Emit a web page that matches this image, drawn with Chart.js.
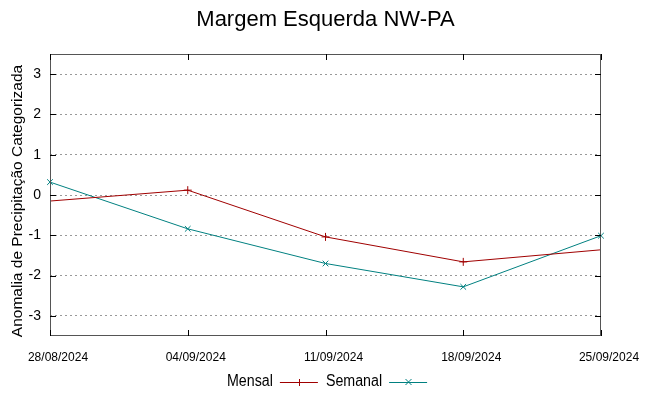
<!DOCTYPE html>
<html>
<head>
<meta charset="utf-8">
<script src="https://cdn.jsdelivr.net/npm/chart.js@4/dist/chart.umd.min.js"></script>
<style>
  html, body { margin: 0; padding: 0; background: #fff; }
  #wrap { width: 649px; height: 396px; position: relative; }
</style>
</head>
<body>
<div id="wrap"><canvas id="chart"></canvas></div>
<script>
// values
const dates = ['28/08/2024', '04/09/2024', '11/09/2024', '18/09/2024', '25/09/2024'];
const mensal = [-0.15, 0.12, -1.04, -1.66, -1.36];
const semanal = [0.32, -0.84, -1.70, -2.28, -1.01];
const mensalMarks = [0, 4, 4, 4, 0]; // end points of Mensal fall outside the axis range
const yTicks = [-3, -2, -1, 0, 1, 2, 3];
const yTitle = 'Anomalia de Precipitação Categorizada';

const RED = '#a00000';
const TEAL = '#008080';
const SANS = '"Liberation Sans", Arial, sans-serif';
const NARROW_X = 0.89; // gnuplot's labels look a bit condensed

// gnuplot-ish frame: title, y label, inward ticks on all sides, x labels, legend below
const frame = {
  id: 'frame',
  afterDraw(chart) {
    const { ctx, chartArea: a, scales } = chart;
    ctx.save();
    ctx.strokeStyle = '#555';
    ctx.lineWidth = 1;
    ctx.strokeRect(a.left + 0.5, a.top + 0.5, a.right - a.left - 1, a.bottom - a.top - 1);
    ctx.strokeStyle = '#000';
    ctx.beginPath();
    yTicks.forEach(v => {
      const y = Math.round(scales.y.getPixelForValue(v)) + 0.5;
      ctx.moveTo(a.left, y); ctx.lineTo(a.left + 6, y);
      ctx.moveTo(a.right, y); ctx.lineTo(a.right - 6, y);
    });
    dates.forEach((d, i) => {
      const x = Math.round(scales.x.getPixelForValue(i)) + 0.5;
      ctx.moveTo(x, a.bottom); ctx.lineTo(x, a.bottom - 6);
      ctx.moveTo(x, a.top); ctx.lineTo(x, a.top + 6);
    });
    ctx.stroke();

    ctx.fillStyle = '#000';
    ctx.textAlign = 'center';
    ctx.textBaseline = 'middle';
    ctx.font = '22px ' + SANS;
    ctx.fillText('Margem Esquerda NW-PA', (a.left + a.right) / 2, 20);

    ctx.save();
    ctx.translate(18, (a.top + a.bottom) / 2 + 6);
    ctx.rotate(-Math.PI / 2);
    ctx.font = '15.5px ' + SANS;
    ctx.fillText(yTitle, 0, 0);
    ctx.restore();

    // x labels, condensed and nudged right like the original
    ctx.font = '13.5px ' + SANS;
    dates.forEach((d, i) => {
      const x = scales.x.getPixelForValue(i) + 8;
      ctx.save();
      ctx.translate(x, 357);
      ctx.scale(NARROW_X, 1);
      ctx.fillText(d, 0, 0);
      ctx.restore();
    });

    // legend: text then sample, like gnuplot
    ctx.font = '16px ' + SANS;
    ctx.textAlign = 'left';
    const ly = 382;
    let x = 227;
    chart.data.datasets.forEach(ds => {
      ctx.fillStyle = '#000';
      ctx.save();
      ctx.translate(x, ly);
      ctx.scale(NARROW_X, 1);
      ctx.fillText(ds.label, 0, 0);
      ctx.restore();
      x += ctx.measureText(ds.label).width * NARROW_X + 7;
      ctx.strokeStyle = ds.borderColor;
      ctx.beginPath();
      ctx.moveTo(x, ly + 0.5); ctx.lineTo(x + 38, ly + 0.5);
      const cx = Math.round(x + 19) + 0.5;
      if (ds.pointStyle === 'cross') {
        ctx.moveTo(cx, ly - 3); ctx.lineTo(cx, ly + 4);
      } else {
        ctx.moveTo(cx - 3, ly - 3); ctx.lineTo(cx + 3, ly + 3);
        ctx.moveTo(cx - 3, ly + 3); ctx.lineTo(cx + 3, ly - 3);
      }
      ctx.stroke();
      x += 38 + 8;
    });
    ctx.restore();
  }
};

new Chart(document.getElementById('chart'), {
  type: 'line',
  data: {
    labels: dates,
    datasets: [
      {
        label: 'Mensal',
        data: mensal,
        borderColor: RED,
        backgroundColor: RED,
        borderWidth: 1,
        pointStyle: 'cross',
        pointRadius: mensalMarks,
        pointBorderWidth: 1,
        tension: 0,
      },
      {
        label: 'Semanal',
        data: semanal,
        borderColor: TEAL,
        backgroundColor: TEAL,
        borderWidth: 1,
        pointStyle: 'crossRot',
        pointRadius: 4,
        pointBorderWidth: 1,
        tension: 0,
      },
    ],
  },
  options: {
    responsive: true,
    maintainAspectRatio: false,
    animation: false,
    devicePixelRatio: 1,
    layout: { padding: { left: 0, right: 48, top: 54, bottom: 0 } },
    plugins: { legend: { display: false }, tooltip: { enabled: false }, title: { display: false } },
    scales: {
      x: {
        type: 'category',
        offset: false,
        grid: { display: false, drawTicks: false },
        border: { display: false },
        ticks: { display: false },
        afterFit(s) { s.height = 60; },
      },
      y: {
        min: -3.5,
        max: 3.5,
        afterBuildTicks(s) { s.ticks = yTicks.map(v => ({ value: v })); },
        grid: { color: '#999', drawTicks: false },
        border: { display: false, dash: [2, 3] },
        ticks: { color: '#000', font: { family: SANS, size: 14 }, padding: 9 },
        afterFit(s) { s.width = 50; },
      },
    },
  },
  plugins: [frame],
});
</script>
</body>
</html>
